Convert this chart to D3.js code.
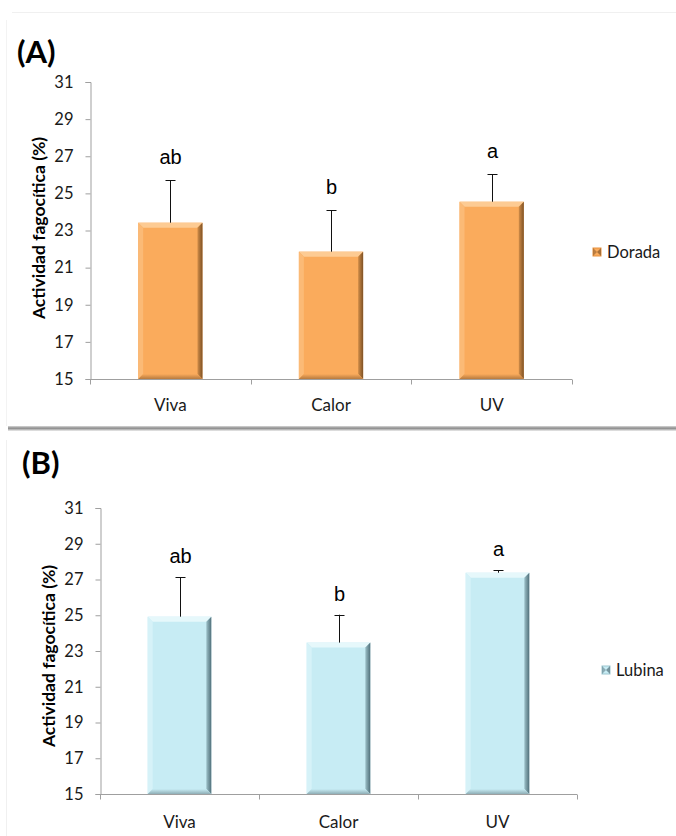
<!DOCTYPE html>
<html>
<head>
<meta charset="utf-8">
<script src="https://cdn.jsdelivr.net/npm/d3@7/dist/d3.min.js"></script>
<style>
  html, body { margin: 0; padding: 0; background: #fff; }
  svg { display: block; }
</style>
</head>
<body>
<svg id="chart" width="676" height="836"></svg>
<script>
// ---- data ----
const categories = ["Viva", "Calor", "UV"];
const doradaValues = [23.42, 21.86, 24.55];
const doradaErrors = [2.3, 2.24, 1.48];
const doradaLetters = ["ab", "b", "a"];
const lubinaValues = [24.92, 23.47, 27.38];
const lubinaErrors = [2.2, 1.56, 0.15];
const lubinaLetters = ["ab", "b", "a"];
const yTicks = [15, 17, 19, 21, 23, 25, 27, 29, 31];
const yDomain = [15, 31];
const yTitle = "Actividad fagocítica (%)";

const svg = d3.select("#chart");
const defs = svg.append("defs");

// shadow gradient between panels
const sg = defs.append("linearGradient").attr("id", "shadowGrad")
  .attr("x1", 0).attr("y1", 0).attr("x2", 0).attr("y2", 1);
sg.append("stop").attr("offset", "0%").attr("stop-color", "#d8d8d8");
sg.append("stop").attr("offset", "45%").attr("stop-color", "#8a8a8a");
sg.append("stop").attr("offset", "100%").attr("stop-color", "#eeeeee");

const palettes = {
  orange: { main: "#FAAB5C", top: "#FDCB93", left: "#FBBA76", right: ["#D08C48", "#7E5225"], bottom: "#B77A3E", legend: "#E8923E", mark: "#93612F" },
  blue:   { main: "#C7ECF4", top: "#E6F8FB", left: "#D6F2F8", right: ["#9CC0C8", "#50707A"], bottom: "#8FAEB6", legend: "#9CC6D0", mark: "#62808A" }
};
Object.entries(palettes).forEach(([k, p]) => {
  const lg = defs.append("linearGradient").attr("id", "right-" + k)
    .attr("x1", 0).attr("y1", 0).attr("x2", 1).attr("y2", 0);
  lg.append("stop").attr("offset", "0%").attr("stop-color", p.right[0]);
  lg.append("stop").attr("offset", "100%").attr("stop-color", p.right[1]);
  const bg = defs.append("linearGradient").attr("id", "bottom-" + k)
    .attr("x1", 0).attr("y1", 0).attr("x2", 0).attr("y2", 1);
  bg.append("stop").attr("offset", "0%").attr("stop-color", p.main);
  bg.append("stop").attr("offset", "100%").attr("stop-color", p.bottom);
});

// faint frames
svg.append("line").attr("x1", 12).attr("x2", 676).attr("y1", 12.5).attr("y2", 12.5)
  .attr("stroke", "#f0f0f0").attr("stroke-width", 1);
svg.append("line").attr("x1", 6.5).attr("x2", 6.5).attr("y1", 20).attr("y2", 426)
  .attr("stroke", "#f3f3f3").attr("stroke-width", 1);
svg.append("line").attr("x1", 6.5).attr("x2", 6.5).attr("y1", 440).attr("y2", 836)
  .attr("stroke", "#f0f0f0").attr("stroke-width", 1);
svg.append("rect").attr("x", 8).attr("y", 426).attr("width", 668).attr("height", 5)
  .attr("fill", "url(#shadowGrad)");

const uiFont = "Lato, 'Open Sans', sans-serif";

function drawPanel(cfg) {
  const g = svg.append("g");
  const x = d3.scaleBand().domain(categories).range([cfg.x0, cfg.x1]).padding(0);
  const y = d3.scaleLinear().domain(yDomain).range([cfg.yBottom, cfg.yTop]);
  const pal = palettes[cfg.palette];

  // panel label
  g.append("text").attr("x", cfg.labelX).attr("y", cfg.labelY)
    .attr("font-family", uiFont).attr("font-weight", "bold")
    .attr("font-size", 31).attr("fill", "#000").text(cfg.label);

  // y axis
  const yAxis = d3.axisLeft(y).tickValues(yTicks).tickSize(5).tickPadding(12).tickFormat(d3.format("d"));
  const ya = g.append("g").attr("transform", `translate(${cfg.x0 + 0.5},0)`).call(yAxis);
  ya.select(".domain").attr("stroke", "#9f9f9f");
  ya.selectAll(".tick line").attr("stroke", "#9f9f9f");
  ya.selectAll(".tick text").attr("font-family", uiFont)
    .attr("font-size", 16.5).attr("fill", "#1a1a1a");

  // x axis
  const xa = g.append("g").attr("transform", `translate(0,${cfg.yBottom + 0.5})`);
  xa.append("line").attr("x1", cfg.x0).attr("x2", cfg.x1).attr("stroke", "#9f9f9f");
  const bounds = categories.map(c => x(c)).concat([cfg.x1]);
  xa.selectAll("line.tk").data(bounds).join("line").attr("class", "tk")
    .attr("x1", d => Math.round(d) + 0.5).attr("x2", d => Math.round(d) + 0.5)
    .attr("y1", 0).attr("y2", 5).attr("stroke", "#9f9f9f");
  xa.selectAll("text").data(categories).join("text")
    .attr("x", d => x(d) + x.bandwidth() / 2).attr("y", cfg.xLabelDy)
    .attr("text-anchor", "middle").attr("font-family", uiFont)
    .attr("font-size", 17).attr("fill", "#1a1a1a").text(d => d);

  // bars with bevel
  const bw = x.bandwidth() * 0.4;
  const b = 5;
  const bars = g.append("g");
  cfg.values.forEach((v, i) => {
    const c = categories[i];
    const bx = x(c) + (x.bandwidth() - bw) / 2;
    const by = y(v);
    const bh = y(yDomain[0]) - by;
    const gb = bars.append("g");
    gb.append("rect").attr("x", bx).attr("y", by).attr("width", bw).attr("height", bh).attr("fill", pal.main);
    gb.append("polygon").attr("fill", pal.top)
      .attr("points", [[bx, by], [bx + bw, by], [bx + bw - b, by + b], [bx + b, by + b]].join(" "));
    gb.append("polygon").attr("fill", pal.left)
      .attr("points", [[bx, by], [bx + b, by + b], [bx + b, by + bh - b], [bx, by + bh]].join(" "));
    gb.append("polygon").attr("fill", `url(#right-${cfg.palette})`)
      .attr("points", [[bx + bw, by], [bx + bw, by + bh], [bx + bw - b, by + bh - b], [bx + bw - b, by + b]].join(" "));
    gb.append("polygon").attr("fill", `url(#bottom-${cfg.palette})`)
      .attr("points", [[bx, by + bh], [bx + b, by + bh - b], [bx + bw - b, by + bh - b], [bx + bw, by + bh]].join(" "));

    // error bar (upper only)
    const cx = Math.round(x(c) + x.bandwidth() / 2) + 0.5;
    const ey = y(v + cfg.errors[i]);
    gb.append("line").attr("x1", cx).attr("x2", cx).attr("y1", by).attr("y2", ey)
      .attr("stroke", "#111").attr("stroke-width", 1);
    gb.append("line").attr("x1", cx - 5).attr("x2", cx + 5).attr("y1", Math.round(ey) + 0.5).attr("y2", Math.round(ey) + 0.5)
      .attr("stroke", "#111").attr("stroke-width", 1);

    // significance letter
    gb.append("text").attr("x", cx).attr("y", ey - cfg.letterGap)
      .attr("text-anchor", "middle").attr("font-family", "'Liberation Sans', Arial, sans-serif")
      .attr("font-size", 20).attr("fill", "#000").text(cfg.letters[i]);
  });

  // y title
  g.append("text")
    .attr("transform", `translate(${cfg.titleX},${cfg.titleY}) rotate(-90)`)
    .attr("text-anchor", "middle").attr("font-family", uiFont)
    .attr("font-weight", "bold").attr("font-size", 17.5).attr("fill", "#000").text(yTitle);

  // legend
  const lg = g.append("g").attr("transform", `translate(${cfg.legendX},${cfg.legendY})`);
  lg.append("rect").attr("x", 0).attr("y", -4).attr("width", 8).attr("height", 8).attr("fill", pal.main)
    .attr("stroke", pal.legend).attr("stroke-width", 1);
  lg.append("polygon").attr("points", "0,-4 4,0 0,4").attr("fill", pal.mark).attr("opacity", 0.6);
  lg.append("polygon").attr("points", "8,-4 4,0 8,4").attr("fill", pal.mark).attr("opacity", 0.8);
  lg.append("text").attr("x", 14).attr("y", 0).attr("dy", "0.35em")
    .attr("font-family", uiFont).attr("font-size", 16.5).attr("fill", "#1a1a1a")
    .text(cfg.series);
}

drawPanel({
  label: "(A)", labelX: 17, labelY: 63,
  x0: 90, x1: 572, yTop: 82, yBottom: 379,
  values: doradaValues, errors: doradaErrors, letters: doradaLetters,
  palette: "orange", series: "Dorada", legendX: 593, legendY: 252,
  titleX: 45, titleY: 228, xLabelDy: 31, letterGap: 16
});

drawPanel({
  label: "(B)", labelX: 22, labelY: 474,
  x0: 100, x1: 577, yTop: 508, yBottom: 794,
  values: lubinaValues, errors: lubinaErrors, letters: lubinaLetters,
  palette: "blue", series: "Lubina", legendX: 602, legendY: 670,
  titleX: 55, titleY: 656, xLabelDy: 33, letterGap: 14
});
</script>
</body>
</html>
